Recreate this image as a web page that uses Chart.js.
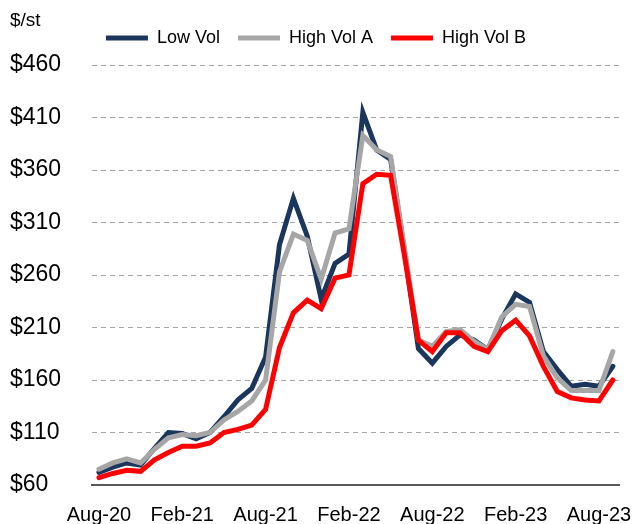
<!DOCTYPE html>
<html>
<head>
<meta charset="utf-8">
<script src="https://cdn.jsdelivr.net/npm/chart.js@4/dist/chart.umd.min.js"></script>
<style>
    html, body { margin: 0; padding: 0; background: #fff; }
    #wrap { width: 633px; height: 524px; }
</style>
</head>
<body>
<div id="wrap"><canvas id="lineChart" width="633" height="524"></canvas></div>
<script>
var months = ['Aug-20','Sep-20','Oct-20','Nov-20','Dec-20','Jan-21','Feb-21','Mar-21','Apr-21','May-21',
    'Jun-21','Jul-21','Aug-21','Sep-21','Oct-21','Nov-21','Dec-21','Jan-22','Feb-22','Mar-22',
    'Apr-22','May-22','Jun-22','Jul-22','Aug-22','Sep-22','Oct-22','Nov-22','Dec-22','Jan-23',
    'Feb-23','Mar-23','Apr-23','May-23','Jun-23','Jul-23','Aug-23','Sep-23'];
var tickLabels = ['Aug-20','Feb-21','Aug-21','Feb-22','Aug-22','Feb-23','Aug-23'];

var lowVol   = [72, 77, 81, 79, 95, 110, 109, 104, 110, 125, 141, 152, 182, 289, 333, 297, 237, 271, 280, 415,
    379, 370, 282, 190, 176, 192, 203, 198, 189, 218, 242, 234, 187, 170, 154, 156, 154, 173];
var highVolA = [75, 81, 85, 81, 94, 105, 108, 107, 110, 122, 130, 140, 160, 263, 299, 293, 256, 300, 304, 393,
    379, 373, 285, 198, 192, 206, 208, 197, 189, 220, 232, 230, 183, 162, 150, 150, 150, 187];
var highVolB = [67, 71, 74, 73, 84, 91, 97, 97, 100, 110, 113, 117, 132, 191, 224, 236, 228, 257, 260, 347,
    356, 355, 278, 198, 187, 205, 205, 192, 187, 207, 217, 202, 173, 149, 143, 141, 140, 160];

var fontFamily = "'Liberation Sans', Arial, sans-serif";
Chart.defaults.color = '#000';
Chart.defaults.font.family = fontFamily;

// unit label top left
var unitLabel = {
    id: 'unitLabel',
    afterDraw: function (chart) {
        var ctx = chart.ctx;
        ctx.save();
        ctx.font = '19px ' + fontFamily;
        ctx.fillStyle = '#000';
        ctx.textBaseline = 'middle';
        ctx.textAlign = 'left';
        ctx.fillText('$/st', 10, 21);
        ctx.restore();
    }
};

function lineSet(label, data, color, order) {
    return {
        label: label,
        data: data,
        borderColor: color,
        backgroundColor: color,
        borderWidth: 5,
        borderCapStyle: 'round',
        pointRadius: 0,
        pointHoverRadius: 0,
        tension: 0,
        fill: false,
        order: order
    };
}

var ctx = document.getElementById('lineChart').getContext('2d');
new Chart(ctx, {
    type: 'line',
    data: {
        labels: months,
        datasets: [
            lineSet('Low Vol', lowVol, '#1b365d', 2),
            lineSet('High Vol A', highVolA, '#a6a6a6', 1),
            lineSet('High Vol B', highVolB, '#ff0000', 0)
        ]
    },
    options: {
        responsive: false,
        animation: false,
        layout: { padding: { left: 10, right: 11, top: 11, bottom: 0 } },
        plugins: {
            tooltip: { enabled: false },
            legend: {
                position: 'top',
                labels: {
                    usePointStyle: true,
                    pointStyle: 'line',
                    pointStyleWidth: 42,
                    padding: 18,
                    color: '#000',
                    font: { size: 18 },
                    sort: function (a, b) { return a.datasetIndex - b.datasetIndex; }
                }
            },
            // empty spacer between legend and plot
            subtitle: {
                display: true,
                text: '',
                position: 'top',
                weight: 500,
                padding: 0,
                font: { size: 8, lineHeight: 1 }
            }
        },
        scales: {
            x: {
                offset: true,
                grid: { display: false, drawTicks: false },
                border: { display: true, color: '#595959', width: 2 },
                afterFit: function (scale) { scale.height = 39; },
                ticks: {
                    autoSkip: false,
                    maxRotation: 0,
                    padding: 20,
                    font: { size: 20, lineHeight: 1 },
                    callback: function (val, i) {
                        var m = months[i];
                        return tickLabels.indexOf(m) >= 0 ? m : '';
                    }
                }
            },
            y: {
                min: 60,
                max: 460,
                afterFit: function (scale) { scale.width = 82; },
                grid: {
                    drawTicks: false,
                    color: function (c) { return c.index === 0 ? 'rgba(0,0,0,0)' : '#a6a6a6'; },
                    lineWidth: 1
                },
                border: { display: false, dash: [5, 4] },
                ticks: {
                    stepSize: 50,
                    padding: 0,
                    crossAlign: 'far',
                    font: { size: 23 },
                    callback: function (v) { return '$' + v; }
                }
            }
        }
    },
    plugins: [unitLabel]
});
</script>
</body>
</html>
